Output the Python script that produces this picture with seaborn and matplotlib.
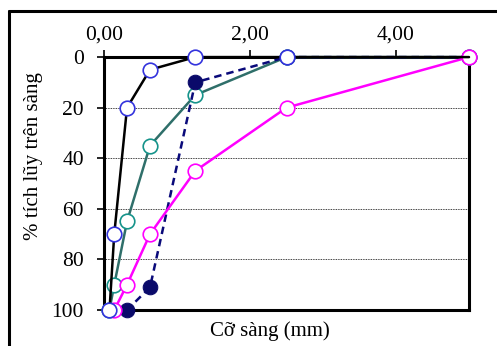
import matplotlib
matplotlib.use("Agg")
import matplotlib.pyplot as plt
import seaborn as sns
import pandas as pd
from matplotlib.lines import Line2D

# sieve sizes (mm) and cumulative retained (%)
sieve_1 = [5.0, 2.5, 1.25, 0.63, 0.315, 0.14, 0.075]
ret_1 = [0, 0, 0, 5, 20, 70, 100]

sieve_2 = [5.0, 2.5, 1.25, 0.63, 0.315, 0.14, 0.075]
ret_2 = [0, 0, 15, 35, 65, 90, 100]

sieve_3 = [5.0, 2.5, 1.25, 0.63, 0.315]
ret_3 = [0, 0, 10, 91, 100]

sieve_4 = [5.0, 2.5, 1.25, 0.63, 0.315, 0.14]
ret_4 = [0, 20, 45, 70, 90, 100]

x_ticks = [0, 2, 4]
x_ticklabels = ["0,00", "2,00", "4,00"]
y_ticks = [0, 20, 40, 60, 80, 100]

sns.set_theme(style="white")
plt.rcParams["font.family"] = ["Liberation Serif", "DejaVu Serif"]

fig = plt.figure(figsize=(4.97, 3.46), dpi=100)
ax = fig.add_axes([0.2093, 0.104, 0.7344, 0.731])

for yv in [20, 40, 60, 80]:
    ax.axhline(yv, color="black", lw=0.6, ls=(0, (1, 1)), zorder=1)

ms = 10.5

df2 = pd.DataFrame({"x": sieve_2, "y": ret_2})
sns.lineplot(data=df2, x="x", y="y", ax=ax, sort=False, color="#2f6f6a", lw=1.8,
             marker="o", markersize=ms, markerfacecolor="white",
             markeredgecolor="#15938a", markeredgewidth=1.2, zorder=3, clip_on=False)

df3 = pd.DataFrame({"x": sieve_3, "y": ret_3})
sns.lineplot(data=df3, x="x", y="y", ax=ax, sort=False, color="#0a0a7a", lw=1.8,
             linestyle=(0, (3, 2)), marker="o", markersize=ms,
             markerfacecolor="#0a0a6a", markeredgecolor="#0a0a6a", zorder=4, clip_on=False)

df4 = pd.DataFrame({"x": sieve_4, "y": ret_4})
sns.lineplot(data=df4, x="x", y="y", ax=ax, sort=False, color="#ff00ff", lw=1.8,
             marker="o", markersize=ms, markerfacecolor="white",
             markeredgecolor="#ff00ff", markeredgewidth=1.2, zorder=5, clip_on=False)

df1 = pd.DataFrame({"x": sieve_1, "y": ret_1})
sns.lineplot(data=df1, x="x", y="y", ax=ax, sort=False, color="black", lw=1.8,
             marker="o", markersize=ms, markerfacecolor="white",
             markeredgecolor="#3333dd", markeredgewidth=1.2,
             markevery=list(range(1, len(sieve_1))), zorder=6, clip_on=False)

ax.set_xlim(0, 5)
ax.set_ylim(100, 0)
ax.xaxis.tick_top()
ax.set_xticks(x_ticks)
ax.set_xticklabels(x_ticklabels)
ax.set_yticks(y_ticks)
ax.tick_params(axis="both", which="both", direction="out", length=5, width=1.2,
               color="black", labelsize=15.5, labelcolor="black")
ax.tick_params(axis="x", top=True, bottom=False, pad=4)
ax.tick_params(axis="y", left=True, pad=9.5)

for s in ax.spines.values():
    s.set_visible(True)
    s.set_color("black")
    s.set_linewidth(2.2)
    s.set_zorder(2)

ax.set_xlabel("")
ax.set_ylabel("% tích lũy trên sàng", fontsize=15, color="black")
ax.yaxis.set_label_coords(-0.168, 0.61)
fig.text(0.543, 0.042, "Cỡ sàng (mm)", fontsize=15, ha="center", va="center", color="black")

# outer chart frame (cropped on right and bottom)
fig.add_artist(Line2D([9 / 497, 9 / 497], [0, 1 - 11 / 346], color="black", lw=2.2,
                      transform=fig.transFigure))
fig.add_artist(Line2D([9 / 497, 1], [1 - 11 / 346, 1 - 11 / 346], color="black", lw=2.2,
                      transform=fig.transFigure))

fig.savefig("out.png", dpi=100)
